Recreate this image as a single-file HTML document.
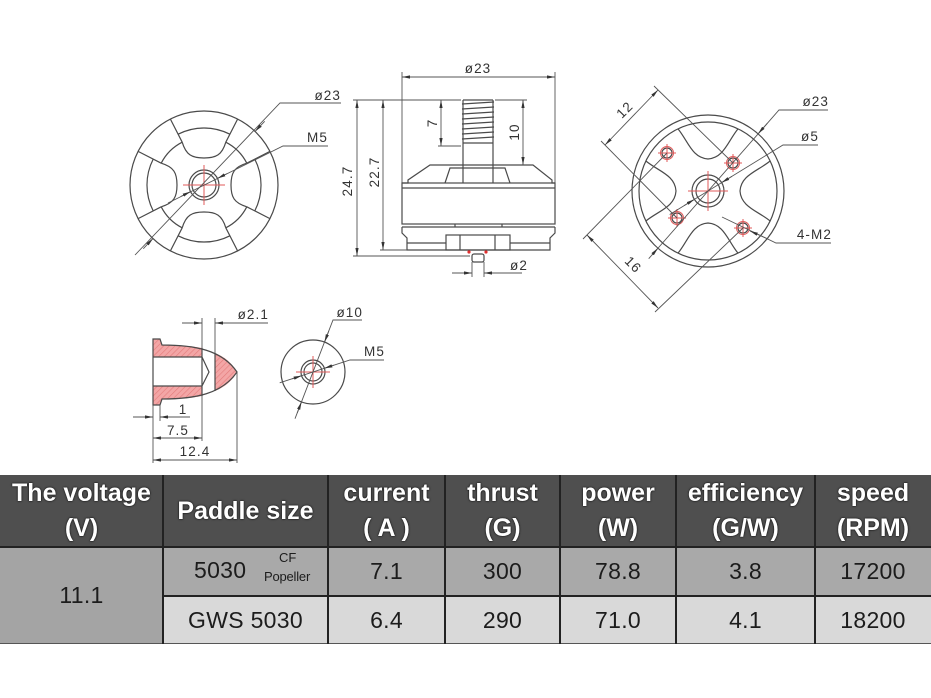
<!DOCTYPE html>
<html><head><meta charset="utf-8"><style>
html,body{margin:0;padding:0;background:#fff;}
body{width:931px;height:698px;position:relative;overflow:hidden;font-family:"Liberation Sans",sans-serif;}
svg{position:absolute;left:0;top:0;}
.l{stroke:#4a4a4a;stroke-width:1.2;fill:none;}
.d{stroke:#555;stroke-width:0.9;fill:none;}
.r{stroke:#e25a5a;stroke-width:1;fill:none;}
.t{font-family:"Liberation Sans",sans-serif;font-size:13.5px;fill:#333;letter-spacing:1.1px;}
.c{position:absolute;box-sizing:border-box;display:flex;align-items:center;justify-content:center;text-align:center;white-space:nowrap;}
.h{background:#4f4f4f;color:#fff;font-weight:bold;font-size:25px;line-height:35px;text-shadow:0 0 2px #111,0 0 1px #111;}
.b{font-size:23px;color:#1c1c1c;letter-spacing:0.3px;}
.vl{position:absolute;width:2px;background:#222;}
.hl{position:absolute;height:2px;background:#222;}
</style></head><body>
<svg width="931" height="470" viewBox="0 0 931 470">
<defs>
<marker id="ae" markerUnits="userSpaceOnUse" markerWidth="9" markerHeight="5" refX="8" refY="2.5" orient="auto"><path d="M0,0.9 L8,2.5 L0,4.1 z" fill="#333"/></marker>
<marker id="as" markerUnits="userSpaceOnUse" markerWidth="9" markerHeight="5" refX="0" refY="2.5" orient="auto"><path d="M8,0.9 L0,2.5 L8,4.1 z" fill="#333"/></marker>
<pattern id="hatch" patternUnits="userSpaceOnUse" width="4" height="4" patternTransform="rotate(45)">
<rect width="4" height="4" fill="#f3a6a6"/><line x1="0" y1="0" x2="0" y2="4" stroke="#e37b7b" stroke-width="1.2"/>
</pattern>
<g id="lw">
<path class="l" d="M-25.9,-50.8 A57,57 0 0 1 25.9,-50.8"/>
<path class="l" d="M-33.6,-65.9 L-21.8,-42.8 M33.6,-65.9 L21.8,-42.8"/>
<path class="l" d="M-21.8,-42.8 C-18,-30 -12,-27 0,-27 C12,-27 18,-30 21.8,-42.8"/>
<path class="l" d="M21.8,-42.8 A48,48 0 0 1 42.8,-21.8"/>
</g>
<g id="rw">
<path class="l" d="M-30,-62.1 C-20,-50 -16,-33 0,-32 C16,-33 20,-50 30,-62.1"/>
</g>
<g id="hole">
<circle r="5" class="l"/><circle r="6.5" class="r"/><path class="r" d="M-9,0 H9 M0,-9 V9"/>
</g>
</defs>

<!-- LEFT WHEEL -->
<g transform="translate(204,185)">
<circle r="74" class="l"/>
<use href="#lw"/>
<use href="#lw" transform="rotate(90)"/>
<use href="#lw" transform="rotate(180)"/>
<use href="#lw" transform="rotate(270)"/>
<circle r="15" class="l"/><circle r="12" class="l"/>
<path class="r" d="M-21,0 H21 M0,-20 V20" stroke-width="1.3"/>
</g>
<path class="d" d="M135,255 L280,103 H341"/>
<path class="d" d="M264.7,121.3 L255.1,131.4" marker-end="url(#ae)"/>
<path class="d" d="M143.3,248.7 L152.9,238.6" marker-end="url(#ae)"/>
<path class="d" d="M168,203 L283,146 H328"/>
<path class="d" d="M227.3,173.5 L217.5,178.4" marker-end="url(#ae)"/>
<path class="d" d="M180.7,196.5 L190.5,191.6" marker-end="url(#ae)"/>
<text class="t" x="341" y="100" text-anchor="end">ø23</text>
<text class="t" x="328" y="142" text-anchor="end">M5</text>

<!-- MIDDLE MOTOR -->
<path class="d" d="M402,72 V183 M555,72 V183"/>
<path class="d" d="M402,77 H555" marker-start="url(#as)" marker-end="url(#ae)"/>
<text class="t" x="478" y="73" text-anchor="middle">ø23</text>
<!-- thread -->
<path class="l" d="M463,100 V143 M493,100 V143 M463,100 H493"/>
<path class="l" stroke-width="1.5" d="M462,104 L494,102 M462,109 L494,107 M462,114 L494,112 M462,119 L494,117 M462,124 L494,122 M462,129 L494,127 M462,134 L494,132 M462,139 L494,137"/>
<path class="l" d="M463,143 V183 M493,143 V183 M463,143 H493"/>
<!-- bell -->
<path class="l" d="M402,183 L408,183 L408,180 L430,165 L533,165 L552,180 L552,183 L555,183"/>
<path class="l" d="M445,183 L450,168 L505,168 L510,183"/>
<rect class="l" x="402" y="183" width="153" height="41"/>
<path class="l" d="M402,188 H555"/>
<path class="l" d="M402,227 H555 M455,224 V227 M502,224 V227"/>
<path class="l" d="M402,227 L402,233 L407,238 L407,250 L550,250 L550,238 L555,233 L555,227"/>
<path class="l" d="M407,243 H446 M510,243 H550"/>
<rect class="l" x="446" y="235" width="64" height="15"/>
<path class="l" d="M460,235 V250 M495,235 V250"/>
<circle cx="469" cy="252" r="1.6" fill="#e03030"/><circle cx="486" cy="252" r="1.6" fill="#e03030"/>
<rect class="l" x="472" y="254" width="12" height="8" rx="2"/>
<path class="d" d="M472,262 V277 M484,262 V277"/>
<path class="d" d="M452,273 H472" marker-end="url(#ae)"/>
<path class="d" d="M522,273 H484" marker-end="url(#ae)"/>
<text class="t" x="528" y="270" text-anchor="end">ø2</text>
<!-- left dims -->
<path class="d" d="M353,100 H461 M353,256 H470 M380,250 H407 M438,146 H461 M495,100 H527"/>
<path class="d" d="M357,100 V256" marker-start="url(#as)" marker-end="url(#ae)"/>
<path class="d" d="M383,100 V250" marker-start="url(#as)" marker-end="url(#ae)"/>
<path class="d" d="M441,100 V146" marker-start="url(#as)" marker-end="url(#ae)"/>
<path class="d" d="M523,100 V165" marker-start="url(#as)" marker-end="url(#ae)"/>
<text class="t" transform="translate(352,181) rotate(-90)" text-anchor="middle">24.7</text>
<text class="t" transform="translate(379,172) rotate(-90)" text-anchor="middle">22.7</text>
<text class="t" transform="translate(437,123) rotate(-90)" text-anchor="middle">7</text>
<text class="t" transform="translate(519,132) rotate(-90)" text-anchor="middle">10</text>

<!-- RIGHT WHEEL -->
<g transform="translate(708,191)">
<circle r="76" class="l"/><circle r="69" class="l"/>
<use href="#rw"/>
<use href="#rw" transform="rotate(90)"/>
<use href="#rw" transform="rotate(180)"/>
<use href="#rw" transform="rotate(270)"/>
<circle r="16" class="l"/><circle r="12" class="l"/>
<path class="r" d="M-20,0 H20 M0,-20 V20" stroke-width="1.3"/>
</g>
<use href="#hole" x="667" y="153"/>
<use href="#hole" x="733" y="163"/>
<use href="#hole" x="677" y="218"/>
<use href="#hole" x="743" y="228"/>
<!-- 12 -->
<path class="d" d="M654,86 L733,163 M601,141 L677,218"/>
<path class="d" d="M605,145 L658,90" marker-start="url(#as)" marker-end="url(#ae)"/>
<text class="t" transform="translate(628,113) rotate(-45)" text-anchor="middle">12</text>
<!-- 16 -->
<path class="d" d="M667,153 L583,239 M743,228 L655,312"/>
<path class="d" d="M587,235 L658,308" marker-start="url(#as)" marker-end="url(#ae)"/>
<text class="t" transform="translate(630,268) rotate(45)" text-anchor="middle">16</text>
<!-- leaders -->
<path class="d" d="M652,255 L779,110 H828"/>
<path class="d" d="M767.3,123.3 L758.1,133.8" marker-end="url(#ae)"/>
<path class="d" d="M648.7,258.7 L657.9,248.2" marker-end="url(#ae)"/>
<text class="t" x="829" y="106" text-anchor="end">ø23</text>
<path class="d" d="M669.7,214.5 L783,145 H818"/>
<path class="d" d="M731.9,176.4 L721.6,182.6" marker-end="url(#ae)"/>
<path class="d" d="M684.1,205.6 L694.4,199.4" marker-end="url(#ae)"/>
<text class="t" x="819" y="141" text-anchor="end">ø5</text>
<path class="d" d="M722,217 L776,243 H831"/>
<path class="d" d="M768,239 L750,231" marker-end="url(#ae)"/>
<text class="t" x="832" y="239" text-anchor="end">4-M2</text>

<!-- BULLET NUT -->
<path d="M153,339 L160,339 L162,345 C180,345 192,346 202,348 L202,357 L153,357 Z" fill="url(#hatch)"/>
<path d="M153,405 L160,405 L162,399 C180,399 192,398 202,396 L202,386 L153,386 Z" fill="url(#hatch)"/>
<path d="M215,353 C225,357 232,363 237,372 C232,381 225,387 215,391 Z" fill="url(#hatch)"/>
<path class="l" d="M153,339 L160,339 L162,345 C195,345 222,350 237,372 C222,394 195,399 162,399 L160,405 L153,405 Z"/>
<path class="l" d="M153,357 H202 M153,386 H202 M202,348 V396 M215,353 V391 M202,357 L209,372 L202,386"/>
<!-- dims -->
<path class="d" d="M202,318 V348 M215,318 V353"/>
<path class="d" d="M182,323 H202" marker-end="url(#ae)"/>
<path class="d" d="M268,323 H215" marker-end="url(#ae)"/>
<text class="t" x="269" y="319" text-anchor="end">ø2.1</text>
<path class="d" d="M153,405 V463 M160,405 V421 M202,396 V441 M237,372 V463"/>
<path class="d" d="M133,417 H153" marker-end="url(#ae)"/>
<path class="d" d="M190,417 H160" marker-end="url(#ae)"/>
<text class="t" x="183" y="414" text-anchor="middle">1</text>
<path class="d" d="M153,438 H202" marker-start="url(#as)" marker-end="url(#ae)"/>
<text class="t" x="178" y="435" text-anchor="middle">7.5</text>
<path class="d" d="M153,460 H237" marker-start="url(#as)" marker-end="url(#ae)"/>
<text class="t" x="195" y="456" text-anchor="middle">12.4</text>

<!-- NUT -->
<g transform="translate(313,372)">
<circle r="32" class="l"/><circle r="12" class="l"/><circle r="9" class="l"/>
<path class="r" d="M-17,0 H17 M0,-16 V16" stroke-width="1.3"/>
</g>
<path class="d" d="M295,418.7 L333,320 H362"/>
<path class="d" d="M328.8,331 L324.5,342.1" marker-end="url(#ae)"/>
<path class="d" d="M297.2,413 L301.5,401.9" marker-end="url(#ae)"/>
<text class="t" x="363" y="317" text-anchor="end">ø10</text>
<path class="d" d="M279.7,382.8 L350,360 H384"/>
<path class="d" d="M333.9,365.2 L324.4,368.3" marker-end="url(#ae)"/>
<path class="d" d="M292.1,378.8 L301.6,375.7" marker-end="url(#ae)"/>
<text class="t" x="385" y="356" text-anchor="end">M5</text>
</svg>

<!-- TABLE -->
<div class="c h" style="left:0;top:475px;width:163px;height:72px;">The voltage<br>(V)</div>
<div class="c h" style="left:163px;top:475px;width:165px;height:72px;">Paddle size</div>
<div class="c h" style="left:328px;top:475px;width:117px;height:72px;">current<br>( A )</div>
<div class="c h" style="left:445px;top:475px;width:115px;height:72px;">thrust<br>(G)</div>
<div class="c h" style="left:560px;top:475px;width:116px;height:72px;">power<br>(W)</div>
<div class="c h" style="left:676px;top:475px;width:139px;height:72px;">efficiency<br>(G/W)</div>
<div class="c h" style="left:815px;top:475px;width:116px;height:72px;">speed<br>(RPM)</div>

<div class="c b" style="left:0;top:547px;width:163px;height:97px;background:#a4a4a4;">11.1</div>

<div class="c b" style="left:163px;top:547px;width:165px;height:49px;background:#a9a9a9;justify-content:flex-start;">
<span style="position:absolute;left:31px;top:10px;">5030</span>
<span style="position:absolute;left:116px;top:3px;font-size:13px;letter-spacing:0;">CF</span>
<span style="position:absolute;left:101px;top:22px;font-size:13px;letter-spacing:-0.2px;">Popeller</span>
</div>
<div class="c b" style="left:328px;top:547px;width:117px;height:49px;background:#a9a9a9;">7.1</div>
<div class="c b" style="left:445px;top:547px;width:115px;height:49px;background:#a9a9a9;">300</div>
<div class="c b" style="left:560px;top:547px;width:116px;height:49px;background:#a9a9a9;">78.8</div>
<div class="c b" style="left:676px;top:547px;width:139px;height:49px;background:#a9a9a9;">3.8</div>
<div class="c b" style="left:815px;top:547px;width:116px;height:49px;background:#a9a9a9;">17200</div>

<div class="c b" style="left:163px;top:596px;width:165px;height:48px;background:#d9d9d9;">GWS 5030</div>
<div class="c b" style="left:328px;top:596px;width:117px;height:48px;background:#d9d9d9;">6.4</div>
<div class="c b" style="left:445px;top:596px;width:115px;height:48px;background:#d9d9d9;">290</div>
<div class="c b" style="left:560px;top:596px;width:116px;height:48px;background:#d9d9d9;">71.0</div>
<div class="c b" style="left:676px;top:596px;width:139px;height:48px;background:#d9d9d9;">4.1</div>
<div class="c b" style="left:815px;top:596px;width:116px;height:48px;background:#d9d9d9;">18200</div>

<div class="hl" style="left:0;top:546px;width:931px;"></div>
<div class="hl" style="left:163px;top:595px;width:768px;"></div>
<div class="hl" style="left:0;top:643px;width:931px;height:1px;background:#555;"></div>
<div class="vl" style="left:162px;top:475px;height:169px;"></div>
<div class="vl" style="left:327px;top:475px;height:169px;"></div>
<div class="vl" style="left:444px;top:475px;height:169px;"></div>
<div class="vl" style="left:559px;top:475px;height:169px;"></div>
<div class="vl" style="left:675px;top:475px;height:169px;"></div>
<div class="vl" style="left:814px;top:475px;height:169px;"></div>
</body></html>
